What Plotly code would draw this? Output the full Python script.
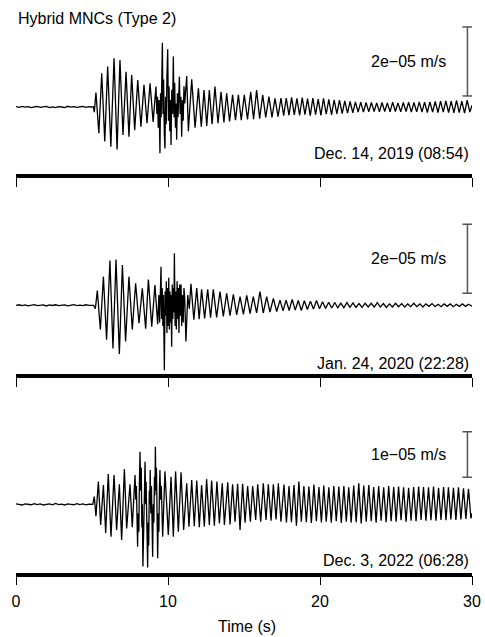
import plotly.graph_objects as go

# ---------------- data (velocity in micrometres per second, time in s) ----------------
t_pre = [0.0, 0.2, 0.4, 0.6, 0.8, 1.0, 1.2, 1.4, 1.6, 1.8, 2.0, 2.2, 2.4,
         2.6, 2.8, 3.0, 3.2, 3.4, 3.6, 3.8, 4.0, 4.2, 4.4, 4.6, 4.8, 5.0]
pre1 = [0.1, -0.1, 0.2, -0.05, 0.1, -0.2, 0.05, 0.15, -0.1, 0.0, 0.2, -0.15, 0.05,
        -0.2, 0.1, 0.0, -0.15, 0.2, -0.05, 0.1, -0.1, 0.05, 0.15, -0.1, 0.1, 0.0]
pre2 = [0.0, 0.15, -0.1, 0.1, -0.15, 0.05, 0.2, -0.1, 0.0, 0.1, -0.2, 0.1, -0.05,
        0.15, -0.1, 0.05, 0.1, -0.15, 0.0, 0.2, -0.1, 0.05, -0.1, 0.15, 0.0, 0.1]
pre3 = [0.1, 0.0, -0.15, 0.1, 0.05, -0.1, 0.15, -0.05, 0.1, -0.15, 0.0, 0.1, -0.1,
        0.2, -0.05, 0.05, -0.15, 0.1, 0.0, -0.1, 0.15, -0.05, 0.1, -0.1, 0.05, 0.0]

ev1_t = [5.10, 5.15, 5.26, 5.45, 5.64, 5.84, 6.03, 6.24, 6.45, 6.65,
         6.84, 7.04, 7.24, 7.43, 7.61, 7.81, 8.01, 8.22, 8.42, 8.62,
         8.82, 9.02, 9.21, 9.27, 9.31, 9.36, 9.41, 9.47, 9.51, 9.55,
         9.59, 9.63, 9.67, 9.71, 9.76, 9.80, 9.84, 9.88, 9.93, 9.98,
         10.03, 10.07, 10.12, 10.16, 10.20, 10.25, 10.30, 10.35, 10.40, 10.44,
         10.49, 10.53, 10.57, 10.62, 10.66, 10.71, 10.75, 10.80, 10.85, 10.90,
         10.95, 11.00, 11.05, 11.10, 11.15, 11.23, 11.34, 11.56, 11.78, 12.00,
         12.19, 12.37, 12.55, 12.72, 12.90, 13.09, 13.29, 13.49, 13.68, 13.86,
         14.05, 14.25, 14.44, 14.63, 14.82, 15.02, 15.23, 15.44, 15.63, 15.83,
         16.03, 16.23, 16.43, 16.64, 16.84, 17.04, 17.24, 17.43, 17.61, 17.78,
         17.96, 18.13, 18.31, 18.48, 18.66, 18.83, 19.01, 19.18, 19.36, 19.53,
         19.71, 19.88, 20.06, 20.23, 20.41, 20.58, 20.76, 20.93, 21.11, 21.28,
         21.46, 21.63, 21.81, 21.98, 22.16, 22.33, 22.51, 22.68, 22.86, 23.03,
         23.21, 23.38, 23.56, 23.73, 23.91, 24.08, 24.26, 24.43, 24.61, 24.78,
         24.96, 25.13, 25.31, 25.48, 25.66, 25.83, 26.01, 26.18, 26.36, 26.53,
         26.71, 26.88, 27.06, 27.23, 27.41, 27.58, 27.76, 27.93, 28.11, 28.28,
         28.46, 28.63, 28.81, 28.98, 29.16, 29.33, 29.51, 29.68, 29.86, 30.00]
ev1_v = [0.0, -1.5, 4.2, -7.6, 9.8, -10.0, 11.7, -11.5, 14.1, -12.3,
         13.6, -8.1, 10.2, -8.6, 9.3, -6.7, 7.8, -5.7, 6.4, -4.7,
         6.9, -4.3, 5.9, -2.0, 3.0, -6.0, 2.0, -13.4, 4.0, -3.0,
         6.0, 18.6, -2.0, 8.0, -8.0, -12.0, 3.0, -5.0, 9.0, 16.7,
         -4.0, 6.0, -7.0, 2.0, -11.0, 5.0, -2.0, 14.6, -3.0, 7.0,
         -6.0, 1.0, -9.5, 4.0, -3.0, 6.0, 8.8, -2.0, 3.0, -8.6,
         2.0, -4.0, 6.0, 1.0, 5.0, 9.0, -7.0, 8.0, -6.0, 5.4,
         -5.7, 4.9, -5.5, 4.9, -5.0, 5.9, -4.7, 4.4, -4.5, 4.0,
         -4.2, 3.5, -3.8, 3.5, -3.8, 3.5, -3.6, 4.4, -3.5, 4.9,
         -3.4, 3.5, -3.0, 3.0, -3.0, 2.5, -2.8, 2.6, -2.5, 2.6,
         -2.4, 2.8, -2.3, 2.5, -2.4, 2.7, -2.2, 2.4, -2.5, 2.6,
         -2.2, 2.3, -2.4, 2.5, -2.1, 2.2, -2.3, 2.1, -2.0, 2.0,
         -1.9, 1.8, -1.8, 1.6, -1.7, 1.5, -1.5, 1.4, -1.5, 1.3,
         -1.4, 1.3, -1.3, 1.2, -1.4, 1.3, -1.3, 1.2, -1.4, 1.4,
         -1.3, 1.2, -1.4, 1.3, -1.3, 1.4, -1.5, 1.3, -1.4, 1.5,
         -1.5, 1.4, -1.6, 1.5, -1.5, 1.6, -1.6, 1.7, -1.5, 1.8,
         -1.6, 1.7, -1.7, 1.9, -1.6, 1.7, -1.8, 2.0, -1.5, 0.5]

ev2_t = [5.10, 5.22, 5.35, 5.55, 5.75, 5.96, 6.18, 6.38, 6.58, 6.80,
         7.00, 7.21, 7.43, 7.65, 7.87, 8.09, 8.31, 8.53, 8.71, 8.93,
         9.14, 9.32, 9.40, 9.45, 9.50, 9.54, 9.58, 9.62, 9.66, 9.70,
         9.76, 9.81, 9.85, 9.89, 9.93, 9.97, 10.01, 10.05, 10.09, 10.13,
         10.18, 10.20, 10.24, 10.28, 10.32, 10.36, 10.39, 10.42, 10.47, 10.51,
         10.55, 10.60, 10.64, 10.68, 10.72, 10.77, 10.81, 10.86, 10.90, 10.95,
         11.00, 11.05, 11.10, 11.18, 11.30, 11.40, 11.51, 11.70, 11.89, 12.05,
         12.21, 12.41, 12.61, 12.80, 12.98, 13.20, 13.42, 13.64, 13.86, 14.08,
         14.30, 14.52, 14.74, 14.96, 15.18, 15.40, 15.61, 15.83, 16.05, 16.27,
         16.49, 16.71, 16.93, 17.15, 17.37, 17.57, 17.77, 17.97, 18.17, 18.37,
         18.57, 18.77, 18.97, 19.17, 19.37, 19.57, 19.77, 19.97, 20.17, 20.37,
         20.57, 20.77, 20.97, 21.17, 21.37, 21.57, 21.77, 21.97, 22.17, 22.37,
         22.57, 22.77, 22.97, 23.17, 23.37, 23.57, 23.77, 23.97, 24.17, 24.37,
         24.57, 24.77, 24.97, 25.17, 25.37, 25.57, 25.77, 25.97, 26.17, 26.37,
         26.57, 26.77, 26.97, 27.17, 27.37, 27.57, 27.77, 27.97, 28.17, 28.37,
         28.57, 28.77, 28.97, 29.17, 29.37, 29.57, 29.77, 29.97, 30.00]
ev2_v = [0.0, -1.0, 4.3, -7.0, 8.3, -10.0, 13.0, -12.5, 13.3, -14.1,
         11.7, -10.5, 8.3, -7.0, 6.4, -5.2, 4.9, -6.8, 7.5, -6.2,
         5.9, -5.5, 3.0, -5.0, 2.0, 11.2, -4.0, 5.0, -6.0, 3.0,
         -18.8, 4.0, -3.0, 7.0, -8.0, 5.0, -6.0, 8.0, -7.0, 4.0,
         -5.0, 3.0, -12.0, 6.0, -4.0, 5.0, -2.0, 15.1, -6.0, 4.0,
         -7.0, 7.0, -4.0, 5.0, -8.0, 6.0, -3.0, 6.0, -6.0, 3.0,
         -5.0, 5.0, 2.0, -10.5, 3.0, -1.0, 6.2, -4.2, 5.0, -4.0,
         4.6, -3.8, 4.6, -3.6, 4.6, -3.5, 4.0, -3.2, 3.5, -3.0,
         3.2, -2.8, 2.5, -2.6, 2.9, -2.4, 2.5, -2.2, 4.0, -2.3,
         2.5, -2.0, 2.0, -1.8, 1.5, -1.6, 1.5, -1.5, 1.7, -1.4,
         1.4, -1.5, 1.3, -1.2, 1.2, -1.1, 1.4, -1.0, 1.0, -0.9,
         0.9, -0.8, 0.8, -0.7, 0.6, -0.7, 0.8, -0.6, 0.7, -0.6,
         0.5, -0.6, 0.6, -0.5, 0.6, -0.5, 0.8, -0.5, 0.5, -0.6,
         0.4, -0.5, 0.6, -0.4, 0.5, -0.5, 0.4, -0.4, 0.6, -0.4,
         0.4, -0.5, 0.4, -0.3, 0.5, -0.4, 0.3, -0.4, 0.4, -0.3,
         0.4, -0.4, 0.3, -0.3, 0.4, -0.3, 0.3, -0.2, 0.0]

ev3_t = [5.05, 5.15, 5.26, 5.42, 5.57, 5.75, 5.90, 6.07, 6.25, 6.45,
         6.62, 6.80, 6.95, 7.13, 7.28, 7.50, 7.65, 7.83, 7.88, 7.92,
         7.96, 8.00, 8.04, 8.08, 8.12, 8.16, 8.20, 8.24, 8.28, 8.31,
         8.35, 8.39, 8.42, 8.46, 8.49, 8.53, 8.56, 8.60, 8.63, 8.66,
         8.70, 8.73, 8.77, 8.80, 8.83, 8.87, 8.91, 8.95, 8.99, 9.03,
         9.07, 9.11, 9.14, 9.17, 9.21, 9.24, 9.28, 9.32, 9.36, 9.40,
         9.44, 9.47, 9.52, 9.56, 9.65, 9.80, 10.02, 10.20, 10.35, 10.50,
         10.68, 10.86, 11.03, 11.23, 11.38, 11.56, 11.73, 11.89, 12.06, 12.21,
         12.39, 12.54, 12.72, 12.87, 13.05, 13.22, 13.38, 13.57, 13.71, 13.93,
         14.08, 14.25, 14.41, 14.58, 14.74, 14.91, 15.07, 15.24, 15.42, 15.57,
         15.77, 15.90, 16.10, 16.27, 16.45, 16.60, 16.78, 16.93, 17.11, 17.26,
         17.43, 17.63, 17.79, 17.96, 18.12, 18.29, 18.45, 18.61, 18.77, 18.94,
         19.10, 19.27, 19.43, 19.60, 19.76, 19.93, 20.09, 20.25, 20.41, 20.58,
         20.74, 20.91, 21.07, 21.24, 21.40, 21.57, 21.73, 21.89, 22.05, 22.22,
         22.38, 22.55, 22.71, 22.88, 23.04, 23.21, 23.37, 23.53, 23.69, 23.86,
         24.02, 24.19, 24.35, 24.52, 24.68, 24.85, 25.01, 25.17, 25.33, 25.50,
         25.66, 25.83, 25.99, 26.16, 26.32, 26.49, 26.65, 26.81, 26.97, 27.14,
         27.30, 27.47, 27.63, 27.80, 27.96, 28.13, 28.29, 28.45, 28.61, 28.78,
         28.94, 29.11, 29.27, 29.44, 29.60, 29.77, 29.93, 30.00]
ev3_v = [0.0, 1.7, -2.6, 5.0, -4.5, 4.2, -6.3, 6.6, -7.1, 6.4,
         -5.6, 4.4, -7.8, 7.7, -5.3, 4.4, -5.0, 6.4, 1.0, 4.0,
         -4.0, -9.3, -2.0, -6.0, 5.0, 11.5, 3.0, 8.0, -5.0, 0.0,
         -13.6, -3.0, -8.0, 4.0, 9.3, 0.0, 5.0, -6.0, -1.0, -13.8,
         -4.0, -9.0, 3.0, 0.0, 7.5, -2.0, 4.0, -6.0, -11.5, 0.0,
         -4.0, 6.0, 2.0, 12.6, 3.0, 8.0, -6.0, -11.8, -2.0, -6.0,
         4.0, 7.5, 1.0, 4.0, -7.1, 7.2, -6.7, 6.0, -7.1, 7.2,
         -6.0, 7.0, -5.6, 4.6, -4.9, 5.3, -4.8, 5.2, -5.0, 4.2,
         -4.9, 5.5, -4.5, 5.2, -4.7, 5.0, -4.2, 4.6, -4.5, 4.8,
         -4.4, 4.4, -3.8, 4.5, -5.6, 4.5, -4.0, 4.0, -3.8, 4.0,
         -3.4, 4.4, -3.8, 4.6, -3.4, 4.4, -3.6, 4.4, -3.3, 4.6,
         -3.8, 4.3, -4.0, 4.0, -3.9, 4.2, -4.7, 5.0, -3.8, 4.0,
         -3.9, 3.9, -4.1, 4.3, -3.7, 3.8, -4.0, 4.1, -3.8, 3.7,
         -4.0, 4.0, -3.7, 3.9, -4.1, 4.0, -3.8, 3.7, -4.0, 4.1,
         -3.9, 4.6, -4.2, 4.1, -3.8, 4.2, -3.7, 3.8, -4.0, 4.0,
         -3.6, 3.7, -3.9, 4.0, -3.7, 3.8, -3.8, 3.9, -3.5, 3.7,
         -3.8, 3.6, -3.6, 3.8, -3.7, 3.9, -3.4, 3.8, -3.6, 3.7,
         -3.5, 3.9, -3.6, 3.6, -3.4, 3.8, -3.5, 3.7, -3.3, 3.6,
         -3.4, 3.7, -3.3, 3.5, -3.2, 3.4, -3.1, -2.0]

dates = ["Dec. 14, 2019 (08:54)", "Jan. 24, 2020 (22:28)", "Dec. 3, 2022 (06:28)"]
scale_labels = ["2e\u221205 m/s", "2e\u221205 m/s", "1e\u221205 m/s"]
scale_len = [20.0, 20.0, 10.0]          # micrometres per second
scale_base = [3.2, 3.5, 5.9]            # bottom of the scale bar
x_ticks = [0, 10, 20, 30]
title = "Hybrid MNCs (Type 2)"

# ---------------- figure ----------------
FONT = "Liberation Sans, Arial, Helvetica, sans-serif"
W, H = 485, 637
ML, MR, MT, MB = 16, 13, 0, 63
PH = H - MT - MB
PW = W - ML - MR


def py(page_y):
    """page pixel -> paper fraction"""
    return 1 - (page_y - MT) / PH


def px(page_x):
    return (page_x - ML) / PW


traces = [(t_pre + ev1_t, pre1 + ev1_v), (t_pre + ev2_t, pre2 + ev2_v), (t_pre + ev3_t, pre3 + ev3_v)]
# page-pixel layout of each panel: (top, bottom of plot area, baseline, px per unit)
panels = [(0, 174.0, 107.0, 3.45), (200, 374.0, 305.3, 3.45), (400, 572.5, 504.3, 4.57)]

fig = go.Figure()
for i, (tx, vy) in enumerate(traces):
    sfx = "" if i == 0 else str(i + 1)
    fig.add_trace(go.Scatter(x=tx, y=vy, mode="lines",
                             line=dict(color="black", width=1.3),
                             xaxis="x" + sfx, yaxis="y" + sfx,
                             hoverinfo="skip", showlegend=False))

layout = dict(width=W, height=H, margin=dict(l=ML, r=MR, t=MT, b=MB),
              paper_bgcolor="white", plot_bgcolor="white",
              font=dict(family=FONT, size=16, color="black"), showlegend=False)

shapes = []
annotations = []
for i, (top, bot, base, ppu) in enumerate(panels):
    sfx = "" if i == 0 else str(i + 1)
    ytop = (base - top) / ppu
    ybot = -(bot - base) / ppu
    layout["yaxis" + sfx] = dict(domain=[py(bot), py(top)], range=[ybot, ytop],
                                 visible=False, fixedrange=True)
    layout["xaxis" + sfx] = dict(domain=[0, 1], anchor="y" + sfx, range=[0, 30],
                                 showline=True, linewidth=3.5, linecolor="black",
                                 ticks="outside", ticklen=9, tickwidth=1, tickcolor="black",
                                 tickvals=x_ticks, showticklabels=(i == 2),
                                 ticklabelstandoff=3,
                                 tickfont=dict(family=FONT, size=16, color="black"),
                                 showgrid=False, zeroline=False, fixedrange=True)
    # scale bar
    xb = 29.70
    cap = 0.33
    y0 = scale_base[i]
    y1 = scale_base[i] + scale_len[i]
    bar = dict(type="line", xref="x" + sfx, yref="y" + sfx, line=dict(color="#555555", width=1.5))
    shapes.append(dict(bar, x0=xb, x1=xb, y0=y0, y1=y1))
    shapes.append(dict(bar, x0=xb - cap, x1=xb + cap, y0=y0, y1=y0))
    shapes.append(dict(bar, x0=xb - cap, x1=xb + cap, y0=y1, y1=y1))
    # scale label
    lab_y_px = base - (y0 + y1) / 2 * ppu
    annotations.append(dict(text=scale_labels[i], xref="paper", yref="paper",
                            x=px(447.5), y=py(lab_y_px),
                            xanchor="right", yanchor="middle", showarrow=False))

date_y = [153.3, 363.3, 560.0]
for i in range(3):
    annotations.append(dict(text=dates[i], xref="paper", yref="paper",
                            x=px(471.0), y=py(date_y[i]),
                            xanchor="right", yanchor="middle", showarrow=False))

annotations.append(dict(text=title, xref="paper", yref="paper", x=px(15.5), y=py(18.5),
                        xanchor="left", yanchor="middle", showarrow=False))
annotations.append(dict(text="Time (s)", xref="paper", yref="paper",
                        x=px(246.7), y=py(626.7),
                        xanchor="center", yanchor="middle", showarrow=False))

layout["shapes"] = shapes
layout["annotations"] = annotations
fig.update_layout(**layout)
fig.write_html("out.html",
               config={"displayModeBar": False},
               post_script="document.body.style.margin='0';"
                           "document.body.style.padding='0';"
                           "document.body.style.overflow='hidden';")
